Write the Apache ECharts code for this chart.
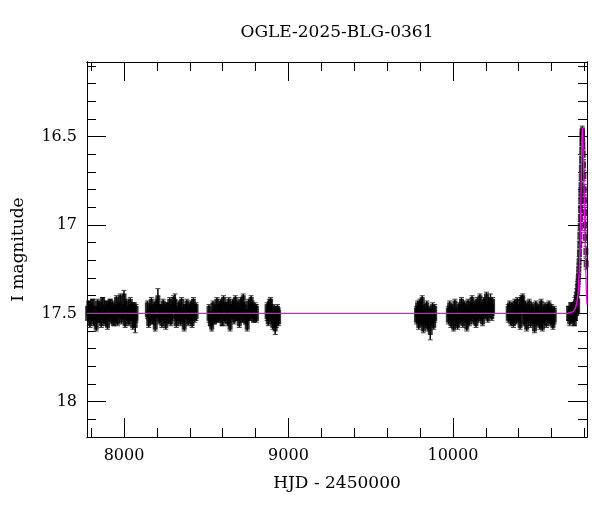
<!DOCTYPE html>
<html>
<head>
<meta charset="utf-8">
<script src="https://cdn.jsdelivr.net/npm/echarts@6/dist/echarts.min.js"></script>
<style>html,body{margin:0;padding:0;background:#fff}#c{width:600px;height:512px}</style>
</head>
<body>
<div id="c"></div>
<script>
// ---- Data (HJD - 2450000, I mag, error) ----
var s1t = [7779,7786,7793,7801,7809,7816,7824,7831,7839,7847,7854,7862,7870,7877,7885,7893,7900,7908,7916,7923,7931,7938,7946,7954,7961,7969,7977,7984,7992,8000,8007,8015,8023,8030,8038,8046,8053,8061,8068,8073];
var s1m = [17.50,17.47,17.53,17.49,17.46,17.52,17.50,17.55,17.47,17.51,17.48,17.53,17.45,17.50,17.52,17.47,17.54,17.49,17.46,17.51,17.48,17.53,17.50,17.45,17.52,17.48,17.44,17.51,17.49,17.43,17.53,17.47,17.50,17.52,17.46,17.49,17.54,17.48,17.54,17.50];
var s1e = [0.05,0.04,0.05,0.05,0.04,0.05,0.04,0.05,0.05,0.04,0.05,0.05,0.04,0.05,0.05,0.04,0.05,0.05,0.04,0.05,0.05,0.04,0.05,0.05,0.05,0.04,0.05,0.05,0.04,0.06,0.05,0.05,0.04,0.05,0.05,0.05,0.05,0.04,0.07,0.05];

var s2t = [8142,8150,8158,8166,8174,8182,8190,8198,8206,8214,8222,8230,8238,8246,8254,8262,8270,8278,8286,8294,8302,8310,8318,8326,8334,8342,8350,8358,8366,8374,8382,8390,8398,8406,8414,8422,8430,8438];
var s2m = [17.48,17.53,17.50,17.46,17.52,17.49,17.55,17.47,17.44,17.51,17.49,17.53,17.47,17.50,17.54,17.48,17.51,17.46,17.52,17.49,17.45,17.46,17.53,17.50,17.48,17.52,17.46,17.51,17.55,17.49,17.47,17.52,17.50,17.48,17.53,17.46,17.50,17.49];
var s2e = [0.05,0.05,0.05,0.05,0.04,0.05,0.05,0.05,0.08,0.05,0.04,0.05,0.05,0.05,0.05,0.04,0.05,0.05,0.05,0.05,0.05,0.07,0.05,0.04,0.05,0.05,0.05,0.05,0.05,0.04,0.05,0.05,0.05,0.05,0.05,0.05,0.05,0.05];

var s3t = [8517,8525,8533,8541,8549,8557,8565,8573,8581,8589,8597,8605,8613,8621,8629,8637,8645,8653,8661,8669,8677,8685,8693,8701,8709,8717,8725,8733,8741,8749,8757,8765,8773,8781,8789,8797,8805];
var s3m = [17.50,17.53,17.55,17.48,17.52,17.50,17.46,17.51,17.49,17.47,17.53,17.45,17.50,17.48,17.52,17.46,17.55,17.49,17.47,17.51,17.45,17.50,17.48,17.53,17.46,17.51,17.44,17.49,17.52,17.55,17.47,17.50,17.45,17.48,17.51,17.49,17.50];
var s3e = [0.05,0.04,0.05,0.05,0.04,0.05,0.05,0.04,0.05,0.05,0.04,0.05,0.05,0.04,0.05,0.05,0.05,0.04,0.05,0.05,0.05,0.04,0.05,0.05,0.05,0.04,0.05,0.05,0.04,0.05,0.05,0.04,0.05,0.05,0.04,0.05,0.05];

var s4t = [8870,8877,8884,8891,8898,8905,8912,8919,8926,8933,8940];
var s4m = [17.49,17.52,17.47,17.46,17.51,17.54,17.50,17.56,17.53,17.50,17.52];
var s4e = [0.05,0.05,0.05,0.05,0.05,0.05,0.05,0.06,0.05,0.05,0.05];

var s5t = [9778,9785,9792,9799,9806,9813,9820,9827,9834,9841,9848,9855,9862,9869,9876,9883,9889];
var s5m = [17.51,17.48,17.54,17.47,17.52,17.45,17.56,17.50,17.53,17.48,17.55,17.51,17.58,17.52,17.49,17.54,17.50];
var s5e = [0.05,0.05,0.05,0.05,0.05,0.05,0.05,0.05,0.05,0.05,0.05,0.05,0.07,0.05,0.05,0.05,0.05];

var s6t = [9972,9980,9988,9996,10004,10012,10020,10028,10036,10044,10052,10060,10068,10076,10084,10092,10100,10108,10116,10124,10132,10140,10148,10156,10164,10172,10180,10188,10196,10204,10212,10220,10228,10236,10241];
var s6m = [17.51,17.48,17.53,17.50,17.55,17.47,17.52,17.54,17.49,17.51,17.46,17.53,17.48,17.50,17.55,17.47,17.52,17.49,17.45,17.51,17.48,17.53,17.46,17.50,17.44,17.49,17.52,17.46,17.48,17.43,17.50,17.47,17.45,17.49,17.46];
var s6e = [0.05,0.05,0.05,0.05,0.05,0.05,0.05,0.05,0.05,0.05,0.05,0.05,0.05,0.05,0.05,0.05,0.05,0.05,0.05,0.05,0.05,0.05,0.05,0.05,0.05,0.05,0.05,0.05,0.05,0.05,0.05,0.05,0.06,0.05,0.05];

var s7t = [10336,10344,10352,10360,10368,10376,10384,10392,10400,10408,10416,10424,10432,10440,10448,10456,10464,10472,10480,10488,10496,10504,10512,10520,10528,10536,10544,10552,10560,10568,10576,10584,10592,10600,10608,10616];
var s7m = [17.50,17.48,17.52,17.49,17.53,17.47,17.51,17.46,17.50,17.54,17.45,17.44,17.52,17.48,17.55,17.50,17.47,17.53,17.49,17.51,17.56,17.48,17.52,17.50,17.54,17.47,17.55,17.51,17.49,17.53,17.50,17.48,17.52,17.50,17.54,17.51];
var s7e = [0.05,0.05,0.05,0.05,0.05,0.05,0.05,0.05,0.05,0.05,0.05,0.05,0.05,0.05,0.05,0.05,0.05,0.05,0.05,0.05,0.05,0.05,0.05,0.05,0.05,0.05,0.05,0.05,0.05,0.05,0.05,0.05,0.05,0.05,0.05,0.05];

var s8t = [10703,10710,10717,10724,10731,10738,10745,10752,10758];
var s8m = [17.50,17.52,17.48,17.51,17.49,17.53,17.50,17.47,17.46];
var s8e = [0.04,0.05,0.04,0.04,0.05,0.04,0.04,0.04,0.04];

var evT = [10742,10746,10750,10753,10756,10759,10761,10763,10765,10767,10769,10771,10772,10774,10775,10776,10777,10778,10779,10780,10781,10782,10783,10784,10785,10786,10787,10788,10790,10792,10794,10796,10798,10800,10802,10804,10806,10808,10810];
var evM = [17.45,17.44,17.42,17.40,17.38,17.35,17.32,17.29,17.25,17.21,17.16,17.11,17.06,17.01,16.96,16.91,16.86,16.82,16.78,16.73,16.68,16.63,16.58,16.53,16.49,16.47,16.48,16.51,16.55,16.60,16.66,16.72,16.80,16.86,16.93,17.00,17.07,17.15,17.22];
var evE = [0.04,0.04,0.04,0.04,0.04,0.03,0.03,0.03,0.03,0.03,0.03,0.03,0.03,0.03,0.03,0.03,0.03,0.03,0.03,0.03,0.03,0.03,0.03,0.03,0.03,0.03,0.03,0.03,0.03,0.03,0.03,0.03,0.03,0.03,0.03,0.03,0.03,0.03,0.03];

// model curve (magenta)
var modelT = [7775,10700,10730,10745,10755,10762,10768,10773,10777,10780,10782,10784,10786,10788,10791,10795,10800,10805,10810,10815];
var modelM = [17.50,17.50,17.49,17.47,17.43,17.37,17.25,17.10,16.92,16.75,16.62,16.51,16.45,16.47,16.55,16.70,16.92,17.15,17.35,17.45];

// axis ticks
var xMajor = [8000,9000,10000];
var xMinor = [7800,8000,8200,8400,8600,8800,9000,9200,9400,9600,9800,10000,10200,10400,10600,10800];
var yMajor = [16.5,17,17.5,18];
var yMinor = [16.1,16.2,16.3,16.4,16.5,16.6,16.7,16.8,16.9,17.0,17.1,17.2,17.3,17.4,17.5,17.6,17.7,17.8,17.9,18.0,18.1,18.2];

var titleText = 'OGLE-2025-BLG-0361';
var xName = 'HJD - 2450000';
var yName = 'I magnitude';

// ---- build ----
var seasons = [[s1t,s1m,s1e],[s2t,s2m,s2e],[s3t,s3m,s3e],[s4t,s4m,s4e],[s5t,s5m,s5e],[s6t,s6m,s6e],[s7t,s7m,s7e],[s8t,s8m,s8e]];
var pts = [];
seasons.forEach(function(s){ for (var i=0;i<s[0].length;i++) pts.push([s[0][i], s[1][i], s[2][i]]); });
var evPts = evT.map(function(t,i){ return [t, evM[i], evE[i]]; });
var model = modelT.map(function(t,i){ return [t, modelM[i]]; });

var FONT = '"DejaVu Serif", serif';
var XMIN = 7775, XMAX = 10815, YMIN = 16.077, YMAX = 18.2;

function xAx(pos, vals, len, lab){
  return {type:'value', position:pos, min:XMIN, max:XMAX,
    axisLine:{show:true, onZero:false, lineStyle:{color:'#000', width:1}},
    axisTick:{show:true, inside:true, length:len, customValues:vals, lineStyle:{color:'#000', width:1}},
    axisLabel:{show:lab, customValues:vals, color:'#000', fontFamily:FONT, fontSize:16, margin:11,
      formatter:function(v){ return String(Math.round(v)); }},
    splitLine:{show:false},
    name: lab ? xName : '', nameLocation:'middle', nameGap:38,
    nameTextStyle:{color:'#000', fontFamily:FONT, fontSize:17}};
}
function yAx(pos, vals, len, lab){
  return {type:'value', position:pos, inverse:true, min:YMIN, max:YMAX,
    axisLine:{show:true, onZero:false, lineStyle:{color:'#000', width:1}},
    axisTick:{show:true, inside:true, length:len, customValues:vals, lineStyle:{color:'#000', width:1}},
    axisLabel:{show:lab, customValues:vals, color:'#000', fontFamily:FONT, fontSize:16, margin:10,
      formatter:function(v){ return String(Math.round(v*10)/10); }},
    splitLine:{show:false},
    name: lab ? yName : '', nameLocation:'middle', nameGap:60, nameRotate:90,
    nameTextStyle:{color:'#000', fontFamily:FONT, fontSize:17}};
}

function errItem(hw, lw){
  return function(params, api){
    var x = api.value(0), y = api.value(1), e = api.value(2);
    var a = api.coord([x, y - e]), b = api.coord([x, y + e]);
    return {type:'group', children:[
      {type:'line', shape:{x1:a[0], y1:a[1], x2:b[0], y2:b[1]}, style:{stroke:'#000', lineWidth:lw}},
      {type:'line', shape:{x1:a[0]-hw, y1:a[1], x2:a[0]+hw, y2:a[1]}, style:{stroke:'#444', lineWidth:1}},
      {type:'line', shape:{x1:b[0]-hw, y1:b[1], x2:b[0]+hw, y2:b[1]}, style:{stroke:'#444', lineWidth:1}}
    ]};
  };
}

var chart = echarts.init(document.getElementById('c'), null, {renderer:'canvas'});
chart.setOption({
  animation:false,
  backgroundColor:'#fff',
  graphic:[{type:'text', x:337, y:33, style:{text:titleText, fill:'#000', font:'17px "DejaVu Serif", serif', textAlign:'center', textVerticalAlign:'middle'}}],
  grid:{left:87, right:13, top:62, bottom:75, containLabel:false},
  xAxis:[xAx('bottom', xMajor, 19, true), xAx('bottom', xMinor, 9, false), xAx('top', xMajor, 19, false), xAx('top', xMinor, 9, false)],
  yAxis:[yAx('left', yMajor, 19, true), yAx('left', yMinor, 9, false), yAx('right', yMajor, 19, false), yAx('right', yMinor, 9, false)],
  series:[
    {type:'custom', xAxisIndex:0, yAxisIndex:0, clip:true, z:2, data:pts, renderItem:errItem(2.5, 1.5)},
    {type:'scatter', xAxisIndex:0, yAxisIndex:0, z:3, data:pts.map(function(p){return [p[0],p[1]];}),
      symbol:'rect', symbolSize:[5,15], itemStyle:{color:'#000'}, silent:true, clip:true},
    {type:'custom', xAxisIndex:0, yAxisIndex:0, clip:true, z:2, data:evPts, renderItem:errItem(2.5, 1.5)},
    {type:'scatter', xAxisIndex:0, yAxisIndex:0, z:3, data:evPts.map(function(p){return [p[0],p[1]];}),
      symbol:'rect', symbolSize:[5,7], itemStyle:{color:'#1a001a'}, silent:true, clip:true},
    {type:'line', xAxisIndex:0, yAxisIndex:0, z:4, data:model, showSymbol:false, smooth:false,
      lineStyle:{color:'#ff00ff', width:1.3}}
  ]
});
</script>
</body>
</html>
